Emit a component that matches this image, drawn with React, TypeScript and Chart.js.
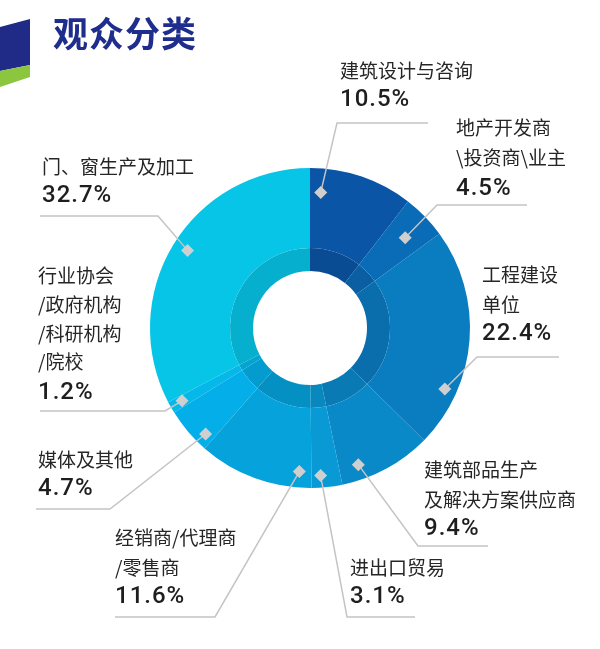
import React, { useEffect, useRef } from "react";
import { Chart, registerables } from "chart.js";

Chart.register(...registerables);

// Audience categories, clockwise from 12 o'clock
const categoryLines: string[][] = [
  ["建筑设计与咨询"],
  ["地产开发商", "\\投资商\\业主"],
  ["工程建设", "单位"],
  ["建筑部品生产", "及解决方案供应商"],
  ["进出口贸易"],
  ["经销商/代理商", "/零售商"],
  ["媒体及其他"],
  ["行业协会", "/政府机构", "/科研机构", "/院校"],
  ["门、窗生产及加工"],
];

// Share of visitors, percent
const shares: number[] = [10.5, 4.5, 22.4, 9.4, 3.1, 11.6, 4.7, 1.2, 32.7];

const sliceColors: string[] = [
  "#0a55a6",
  "#0a6bb6",
  "#0a7cc0",
  "#0a89c9",
  "#0999d4",
  "#06a2dc",
  "#04aee8",
  "#05b8ea",
  "#06c5e6",
];

const darken = (hex: string, f: number) => {
  const n = parseInt(hex.slice(1), 16);
  const r = Math.round(((n >> 16) & 255) * f);
  const g = Math.round(((n >> 8) & 255) * f);
  const b = Math.round((n & 255) * f);
  return `rgb(${r},${g},${b})`;
};

// Callout layout: where the marker sits inside its slice (fraction of the
// slice's sweep and of the outer radius), the leader's elbow and end, and
// the text block's left edge plus the centre line of each text row.
const calloutLayout = [
  { t: 0.12, r: 0.85, elbow: [337, 123], end: [428, 123], tx: 340, rows: [71, 99] },
  { t: 0.54, r: 0.82, elbow: [437, 205], end: [527, 205], tx: 456, rows: [128, 158, 188] },
  { t: 0.75, r: 0.925, elbow: [477, 357], end: [559, 357], tx: 482, rows: [275, 305, 333] },
  { t: 0.77, r: 0.906, elbow: [418, 546], end: [488, 546], tx: 424, rows: [470, 500, 528] },
  { t: 0.68, r: 0.925, elbow: [347, 617], end: [415, 617], tx: 350, rows: [568, 596] },
  { t: 0.115, r: 0.9, elbow: [215, 617], end: [115, 617], tx: 115, rows: [538, 568, 596] },
  { t: 0.2, r: 0.93, elbow: [110, 509], end: [36, 509], tx: 38, rows: [460, 488] },
  { t: 0.53, r: 0.92, elbow: [165, 411], end: [40, 411], tx: 38, rows: [276, 305, 334, 362, 392] },
  { t: 0.51, r: 0.906, elbow: [158, 216], end: [40, 216], tx: 42, rows: [167, 195] },
];

const headerPlugin = {
  id: "header",
  beforeDraw(chart: any) {
    const ctx = chart.ctx as CanvasRenderingContext2D;
    ctx.save();
    ctx.fillStyle = "#ffffff";
    ctx.fillRect(0, 0, chart.width, chart.height);
    // badge at the left edge
    ctx.fillStyle = "#1f2b86";
    ctx.beginPath();
    ctx.moveTo(0, 27);
    ctx.lineTo(30, 19);
    ctx.lineTo(30, 65);
    ctx.lineTo(0, 71);
    ctx.closePath();
    ctx.fill();
    ctx.fillStyle = "#8cc63f";
    ctx.beginPath();
    ctx.moveTo(0, 71);
    ctx.lineTo(30, 65);
    ctx.lineTo(30, 77);
    ctx.lineTo(0, 87);
    ctx.closePath();
    ctx.fill();
    // title
    ctx.fillStyle = "#1f2d8c";
    ctx.font = "bold 35px 'Noto Sans CJK SC'";
    ctx.textBaseline = "middle";
    ctx.textAlign = "left";
    (ctx as any).letterSpacing = "1px";
    ctx.fillText("观众分类", 53, 34);
    (ctx as any).letterSpacing = "0px";
    ctx.restore();
  },
};

const calloutPlugin = {
  id: "callouts",
  afterDatasetsDraw(chart: any) {
    const ctx = chart.ctx as CanvasRenderingContext2D;
    const meta = chart.getDatasetMeta(0);
    ctx.save();
    meta.data.forEach((arc: any, i: number) => {
      const L = calloutLayout[i];
      const { x, y, startAngle, endAngle, outerRadius } = arc.getProps(
        ["x", "y", "startAngle", "endAngle", "outerRadius"],
        true
      );
      const a = startAngle + (endAngle - startAngle) * L.t;
      const px = x + Math.cos(a) * outerRadius * L.r;
      const py = y + Math.sin(a) * outerRadius * L.r;

      // leader
      ctx.strokeStyle = "#c4c4c4";
      ctx.lineWidth = 1.5;
      ctx.beginPath();
      ctx.moveTo(px, py);
      ctx.lineTo(L.elbow[0], L.elbow[1]);
      ctx.lineTo(L.end[0], L.end[1]);
      ctx.stroke();

      // marker
      ctx.fillStyle = "#cfcfcf";
      ctx.beginPath();
      ctx.moveTo(px, py - 6.5);
      ctx.lineTo(px + 6.5, py);
      ctx.lineTo(px, py + 6.5);
      ctx.lineTo(px - 6.5, py);
      ctx.closePath();
      ctx.fill();

      // text
      ctx.textAlign = "left";
      ctx.textBaseline = "middle";
      const lines = categoryLines[i];
      ctx.fillStyle = "#262626";
      ctx.font = "19px 'Noto Sans CJK SC'";
      (ctx as any).letterSpacing = "0px";
      lines.forEach((s, k) => ctx.fillText(s, L.tx, L.rows[k]));
      ctx.fillStyle = "#1e1e1e";
      ctx.font = "500 24px Roboto";
      (ctx as any).letterSpacing = "1px";
      ctx.fillText(`${shares[i].toFixed(1)}%`, L.tx, L.rows[lines.length] + 1);
      (ctx as any).letterSpacing = "0px";
    });
    ctx.restore();
  },
};

export default function App() {
  const canvasRef = useRef<HTMLCanvasElement | null>(null);

  useEffect(() => {
    const canvas = canvasRef.current;
    if (!canvas) return;
    const chart = new Chart(canvas, {
      type: "doughnut",
      data: {
        labels: categoryLines.map((l) => l.join("")),
        datasets: [
          {
            data: shares,
            backgroundColor: sliceColors,
            borderWidth: 0,
            weight: 80,
          },
          {
            data: shares,
            backgroundColor: sliceColors.map((c) => darken(c, 0.89)),
            borderWidth: 0,
            weight: 23,
          },
        ],
      },
      options: {
        responsive: false,
        animation: false,
        cutout: 57,
        layout: { padding: { left: 150, right: 130, top: 168, bottom: 161 } },
        plugins: {
          legend: { display: false },
          tooltip: { enabled: false },
          title: { display: false },
        },
      },
      plugins: [headerPlugin, calloutPlugin],
    });
    return () => chart.destroy();
  }, []);

  return (
    <div style={{ position: "absolute", left: 0, top: 0, width: 600, height: 649, background: "#fff" }}>
      <canvas ref={canvasRef} width={600} height={649} style={{ display: "block" }} />
    </div>
  );
}
